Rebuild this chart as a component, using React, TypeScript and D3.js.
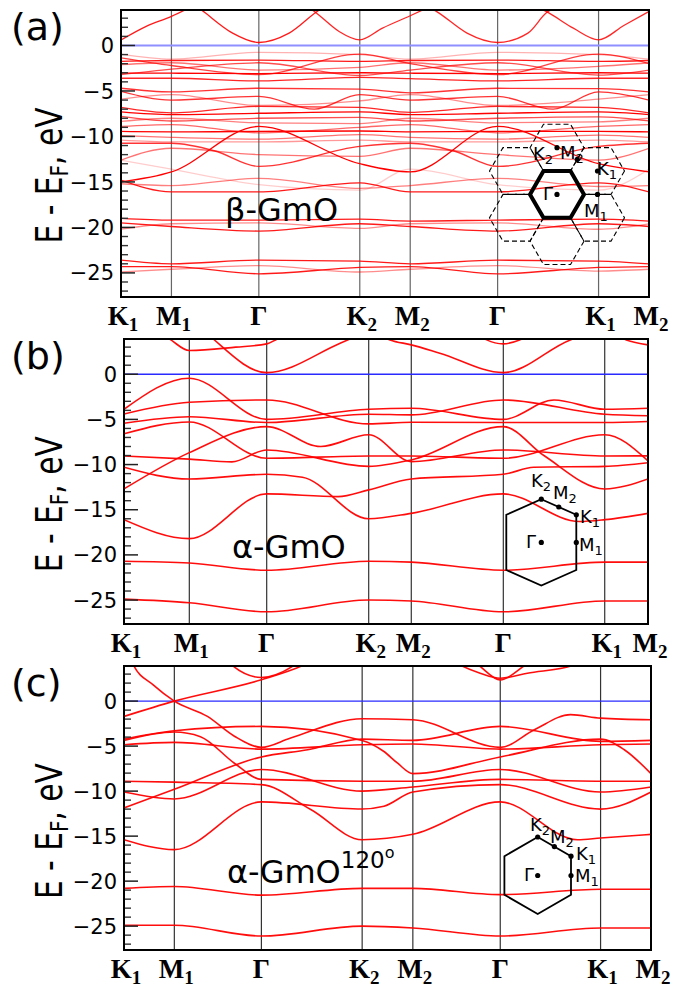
import React from "react";
import * as d3 from "d3";

type Pt = [number, number];

// ---------- shared axis data ----------
const energyRange: [number, number] = [-27.65, 3.9];
const majorTicks = [-25, -20, -15, -10, -5, 0];
const minorTicks = [-27, -26, -24, -23, -22, -21, -19, -18, -17, -16, -14, -13, -12, -11, -9, -8, -7, -6, -4, -3, -2, -1, 1, 2, 3];
const nodeNames = ["K", "M", "Γ", "K", "M", "Γ", "K", "M"];
const nodeSubs = ["1", "1", "", "2", "2", "", "1", "2"];

// path distances of the high-symmetry nodes (K1 M1 Γ K2 M2 Γ K1 M2)
const kNodesA = [0, 0.577, 1.577, 2.732, 3.309, 4.309, 5.464, 6.041];
const kNodesB = [0, 0.753, 1.645, 2.821, 3.312, 4.373, 5.542, 6.041];
const kNodesC = [0, 0.577, 1.575, 2.73, 3.311, 4.313, 5.463, 6.041];

// ---------- panel (a) beta-GmO : [node index, energy] ----------
const condA: Pt[][] = [
  [[0, 0.6], [0.5, 2.1], [1, 3.2], [1.3, 4.6]],
  [[1.2, 5], [1.39, 3.56], [1.7, 1.36], [2, 0.33], [2.3, 1.36], [2.6, 3.9], [2.8, 5]],
  [[2.45, 4.6], [2.6, 3.3], [2.795, 1.54], [3, 0.62], [3.45, 1.91], [4, 3.27], [4.3, 4.6]],
  [[4.15, 4.6], [4.33, 3.56], [4.65, 1.36], [5, 0.33], [5.3, 1.36], [5.48, 3.56], [5.65, 4.6]],
  [[5.3, 4.6], [5.48, 3.74], [5.75, 1.9], [6, 0.62], [6.5, 2.2], [7, 3.74]],
];
const valA: Pt[][] = [
  [[0, -0.95], [1, -1.5], [2, -0.75], [3, -1.0], [4, -1.5], [5, -0.75], [6, -1.0], [7, -1.5]],
  [[0, -1.35], [1, -2.2], [2, -3.2], [3, -0.95], [4, -2.0], [5, -3.2], [6, -0.95], [7, -2.0]],
  [[0, -1.75], [1, -1.65], [2, -1.6], [3, -1.75], [4, -1.65], [5, -1.6], [6, -1.75], [7, -1.65]],
  [[0, -2.1], [1, -1.9], [2, -2.7], [3, -2.4], [4, -1.9], [5, -2.7], [6, -2.3], [7, -1.9]],
  [[0, -3.05], [1, -3.05], [2, -3.1], [3, -3.0], [4, -3.05], [5, -3.1], [6, -3.0], [7, -3.05]],
  [[0, -3.2], [1, -2.6], [2, -1.9], [3, -3.3], [4, -2.7], [5, -1.9], [6, -3.25], [7, -2.7]],
  [[0, -3.6], [1, -3.6], [2, -3.9], [3, -3.5], [4, -3.65], [5, -3.9], [6, -3.6], [7, -3.6]],
  [[0, -4.7], [1, -5.1], [2, -4.7], [3, -4.8], [4, -5.2], [5, -4.7], [6, -4.75], [7, -5.1]],
  [[0, -5.05], [1, -6.0], [2, -5.6], [2.55, -7.0], [3, -5.4], [4, -6.0], [5, -5.6], [5.55, -7.0], [6, -5.1], [7, -6.0]],
  [[0, -5.9], [1, -5.4], [2, -6.6], [3, -6.1], [4, -5.4], [5, -6.6], [6, -5.9], [7, -5.4]],
  [[0, -6.8], [1, -7.4], [2, -6.7], [3, -6.8], [4, -7.35], [5, -6.7], [6, -6.8], [7, -7.4]],
  [[0, -7.3], [1, -7.6], [2, -7.45], [3, -7.3], [4, -7.6], [5, -7.45], [6, -7.3], [7, -7.6]],
  [[0, -7.8], [1, -8.3], [2, -8.0], [3, -7.9], [4, -8.3], [5, -8.0], [6, -7.85], [7, -8.3]],
  [[0, -8.35], [1, -8.0], [2, -8.5], [3, -8.6], [4, -8.0], [5, -8.5], [6, -8.4], [7, -8.0]],
  [[0, -8.9], [1, -8.7], [2, -9.6], [3, -9.0], [4, -8.7], [5, -9.6], [6, -8.9], [7, -8.7]],
  [[0, -9.45], [1, -9.5], [2, -9.45], [3, -9.4], [4, -9.5], [5, -9.45], [6, -9.45], [7, -9.5]],
  [[0, -9.9], [1, -10.1], [2, -10.3], [3, -9.8], [4, -10.1], [5, -10.3], [6, -9.85], [7, -10.1]],
  [[0, -15.0], [1, -13.9], [2, -8.9], [3, -13.0], [4, -13.9], [5, -8.9], [6, -13.0], [7, -13.9]],
  [[0, -10.75], [1, -10.75], [1.5, -11.6], [2, -13.3], [3, -11.1], [4, -10.75], [4.5, -11.6], [5, -13.3], [6, -11.1], [7, -10.75]],
  [[0, -10.4], [1, -10.6], [2, -10.6], [3, -10.4], [4, -10.6], [5, -10.6], [6, -10.4], [7, -10.6]],
  [[0, -12.6], [1, -11.3], [2, -12.0], [3, -12.2], [4, -11.3], [5, -12.0], [6, -12.6], [7, -11.3]],
  [[0, -14.8], [1, -16.1], [2, -16.1], [3, -15.1], [4, -16.1], [5, -16.1], [6, -15.1], [7, -16.1]],
  [[0, -12.6], [1, -13.6], [2, -15.3], [3, -15.9], [4, -13.6], [5, -15.3], [6, -15.9], [7, -13.6]],
  [[0, -15.2], [1, -15.4], [2, -14.6], [3, -15.7], [4, -15.4], [5, -14.6], [6, -15.5], [7, -15.4]],
  [[0, -19.0], [1, -19.2], [2, -19.2], [3, -19.1], [4, -19.3], [5, -19.2], [6, -19.1], [7, -19.3]],
  [[0, -19.5], [1, -19.9], [2, -20.4], [3, -19.6], [4, -19.9], [5, -20.4], [6, -19.6], [7, -19.9]],
  [[0, -20.2], [1, -19.6], [2, -19.5], [3, -20.1], [4, -19.6], [5, -19.5], [6, -20.2], [7, -19.6]],
  [[0, -23.6], [1, -24.0], [2, -23.6], [3, -23.7], [4, -24.0], [5, -23.6], [6, -23.7], [7, -24.0]],
  [[0, -24.3], [1, -24.3], [2, -25.1], [3, -24.4], [4, -24.3], [5, -25.1], [6, -24.4], [7, -24.3]],
  [[0, -24.9], [1, -24.6], [2, -24.2], [3, -24.9], [4, -24.6], [5, -24.2], [6, -24.8], [7, -24.6]],
];
const condWeightsA = [0.9, 0.9, 0.85, 0.85, 0.85];
const valWeightsA = [0.3, 0.75, 0.9, 0.55, 1, 0.7, 0.85, 0.8, 0.8, 0.45, 0.85, 1, 0.7, 0.5, 0.6, 1, 0.55, 1, 0.8, 0.4, 0.55, 0.9, 0.2, 0.5, 0.9, 0.9, 0.45, 0.9, 0.9, 0.45];

// ---------- panel (b) alpha-GmO ----------
const bandsB: Pt[][] = [
  [[0, 7], [0.7, 3.88], [1, 2.62], [1.6, 3.0], [2, 3.36], [2.1, 3.88], [2.3, 5]],
  [[1, 6.5], [1.31, 3.9], [2, 0.18], [2.72, 3.43], [3, 4.8]],
  [[3, 5], [3.5, 3.8], [4, 3.25], [4.31, 2.33], [5, 0.18], [5.66, 3.8], [6, 5], [6.5, 3.8], [7, 3.25]],
  [[4.7, 4.6], [4.82, 3.8], [5, 3.36], [5.16, 3.8], [5.3, 4.6]],
  [[0, -3.88], [1, -0.44], [2, -5.0], [3, -3.88], [4, -3.77], [5, -5.0], [5.5, -2.85], [6, -3.88], [7, -3.77]],
  [[0, -4.4], [1, -3.1], [2, -2.85], [3, -5.5], [4, -5.32], [5, -5.35], [6, -5.35], [7, -5.24]],
  [[0, -5.43], [1, -4.7], [2, -5.35], [3, -4.43], [4, -4.5], [5, -2.85], [6, -4.43], [7, -4.6]],
  [[0, -6.6], [1, -5.28], [2, -9.3], [3, -9.05], [4, -9.05], [5, -9.3], [6, -6.7], [7, -9.6]],
  [[0, -12.7], [1, -8.68], [2, -5.8], [2.53, -8.0], [3, -6.7], [4, -9.67], [5, -8.38], [6, -9.05], [7, -9.04]],
  [[0, -9.05], [1, -9.4], [1.55, -9.7], [2, -8.38], [3, -10.2], [4, -9.49], [5, -5.8], [5.4, -9.0], [6, -12.7], [7, -11.6]],
  [[0, -10.3], [1, -11.6], [2, -11.08], [2.35, -11.4], [3, -16.0], [4, -15.4], [5, -13.25], [5.75, -16.3], [6, -16.1], [7, -15.4]],
  [[0, -16.1], [1, -18.2], [2, -13.25], [2.7, -13.55], [3, -12.8], [4, -11.6], [5, -11.08], [5.3, -10.3], [6, -10.2], [7, -9.8]],
  [[0, -20.7], [1, -20.9], [2, -21.7], [3, -20.7], [4, -20.8], [5, -21.7], [6, -20.8], [7, -20.8]],
  [[0, -24.9], [1, -25.3], [2, -26.3], [3, -25.0], [4, -25.1], [5, -26.3], [6, -25.1], [7, -25.1]],
];

// ---------- panel (c) alpha-GmO 120 ----------
const bandsC: Pt[][] = [
  [[0, -1.7], [1, 0], [2, 2.37], [2.41, 3.95], [2.6, 5]],
  [[0, 7], [0.185, 4.03], [0.58, 1.8], [1, 0], [1.38, -1.7], [1.69, -3.9], [2, -5.14], [2.29, -4.1], [3, -1.96], [4, -2.07], [5, -5.14], [5.34, -3.18], [5.7, -1.5], [6, -1.89], [7, -2.07]],
  [[1.55, 5], [1.66, 4.0], [2, 2.62], [2.33, 4.0], [2.45, 5]],
  [[4.35, 5], [4.54, 4.0], [4.77, 3.1], [5, 2.54], [5.27, 3.1], [5.73, 4.0], [5.9, 5]],
  [[4.6, 5], [4.75, 4.0], [5, 2.35], [5.25, 4.0], [5.4, 5]],
  [[0, -4.22], [1, -3.29], [2, -2.81], [3, -4.37], [3.43, -5.6], [3.7, -6.9], [4, -8.06], [5, -6.2], [6, -4.22], [6.47, -5.4], [7, -8.06]],
  [[0, -4.37], [1, -3.44], [1.3, -3.95], [1.69, -6.9], [2, -8.7], [3, -8.9], [4, -8.9], [5, -7.6], [6, -10.1], [7, -9.54]],
  [[0, -4.85], [1, -4.59], [2, -5.33], [3, -4.85], [4, -4.77], [5, -5.33], [6, -4.85], [7, -4.77]],
  [[0, -8.9], [1, -9.0], [2, -9.28], [2.49, -12.05], [3, -15.4], [4, -14.8], [5, -11.2], [5.77, -15.4], [6, -15.2], [7, -14.8]],
  [[0, -10.1], [1, -10.87], [2, -7.6], [3, -10.0], [4, -9.54], [5, -8.7], [6, -8.9], [7, -8.9]],
  [[0, -11.87], [1, -9.8], [2, -6.2], [2.46, -5.4], [3, -4.22], [4, -4.36], [5, -2.81], [6, -4.47], [7, -4.36]],
  [[0, -15.4], [1, -16.5], [2, -11.2], [3, -11.98], [3.43, -11.68], [4, -10.1], [5, -9.28], [6, -12.0], [7, -10.1]],
  [[0, -20.8], [1, -20.6], [2, -21.55], [3, -20.8], [4, -20.8], [5, -21.5], [6, -20.9], [7, -20.9]],
  [[0, -24.9], [1, -24.9], [2, -26.1], [3, -25.0], [4, -25.2], [5, -26.1], [6, -25.2], [7, -25.2]],
];

// ---------- layout ----------
const layout = [
  { left: 121, right: 649, top: 10, bottom: 297 },
  { left: 124, right: 648, top: 339, bottom: 624 },
  { left: 124, right: 651, top: 666, bottom: 950 },
];

type PanelProps = {
  idx: number;
  kNodes: number[];
  bands: Pt[][];
  weights?: number[];
  faintFermi?: boolean;
  nodeColor: string;
  tag: string;
  children?: React.ReactNode;
};

function Panel({ idx, kNodes, bands, weights, faintFermi, nodeColor, tag, children }: PanelProps) {
  const box = layout[idx];
  const idx2k = d3.scaleLinear().domain([0, 1, 2, 3, 4, 5, 6, 7]).range(kNodes);
  const x = d3.scaleLinear().domain([0, kNodes[7]]).range([box.left, box.right]);
  const y = d3.scaleLinear().domain(energyRange).range([box.bottom, box.top]);
  const line = d3
    .line<Pt>()
    .x((d) => x(idx2k(d[0])))
    .y((d) => y(d[1]))
    .curve(d3.curveMonotoneX);
  const clipId = `clip-${idx}`;
  const titleY = y(0) + 130;
  return (
    <g>
      <defs>
        <clipPath id={clipId}>
          <rect x={box.left} y={box.top} width={box.right - box.left} height={box.bottom - box.top} />
        </clipPath>
      </defs>
      <g clipPath={`url(#${clipId})`}>
        {kNodes.slice(1, 7).map((k, i) => (
          <line key={i} x1={x(k)} x2={x(k)} y1={box.top} y2={box.bottom} stroke={nodeColor} strokeWidth={1.2} />
        ))}
        <line
          x1={box.left}
          x2={box.right}
          y1={y(0)}
          y2={y(0)}
          stroke={faintFermi ? "#8f8fff" : "#2a2aff"}
          strokeWidth={faintFermi ? 2 : 1.4}
        />
        {bands.map((b, i) => (
          <path
            key={i}
            d={line(b) || ""}
            fill="none"
            stroke="#ff0000"
            strokeWidth={weights ? 1.3 : 1.6}
            strokeOpacity={weights ? weights[i] : 0.95}
          />
        ))}
      </g>
      {minorTicks.map((t) => (
        <line key={"m" + t} x1={box.left} x2={box.left + 7} y1={y(t)} y2={y(t)} stroke="#333" strokeWidth={1.4} />
      ))}
      {majorTicks.map((t) => (
        <g key={"M" + t}>
          <line x1={box.left} x2={box.left + 14} y1={y(t)} y2={y(t)} stroke="#222" strokeWidth={1.5} />
          <text x={box.left - 7} y={y(t) + 7.6} textAnchor="end" fontSize={21} fill="#000">
            {t < 0 ? "\u2212" + Math.abs(t) : String(t)}
          </text>
        </g>
      ))}
      <rect
        x={box.left}
        y={box.top}
        width={box.right - box.left}
        height={box.bottom - box.top}
        fill="none"
        stroke="#000"
        strokeWidth={2}
      />
      {kNodes.map((k, i) => (
        <text
          key={"n" + i}
          x={x(k) + (nodeSubs[i] ? 2 : 0)}
          y={box.bottom + 28}
          textAnchor="middle"
          fontFamily="'Liberation Serif', 'Times New Roman', serif"
          fontWeight="bold"
          fontSize={27}
        >
          {nodeNames[i]}
          {nodeSubs[i] ? (
            <tspan fontSize={19} dy={6}>
              {nodeSubs[i]}
            </tspan>
          ) : null}
        </text>
      ))}
      <text x={11} y={box.top + 30} fontSize={38}>
        {tag}
      </text>
      <text
        transform={`translate(62,${titleY}) rotate(-90)`}
        textAnchor="middle"
        fontSize={37}
        textLength={136}
        lengthAdjust="spacingAndGlyphs"
      >
        E - E
        <tspan fontSize={25} dy={6}>
          F
        </tspan>
        <tspan dy={-6}>, eV</tspan>
      </text>
      {children}
    </g>
  );
}

function Lbl({ x, y, t, s, anchor }: { x: number; y: number; t: string; s?: string; anchor?: string }) {
  return (
    <text x={x} y={y} fontSize={18} textAnchor={anchor || "start"}>
      {t}
      {s ? (
        <tspan fontSize={13} dy={4}>
          {s}
        </tspan>
      ) : null}
    </text>
  );
}

function InsetA() {
  const cx = 557, cy = 194.4, R = 27;
  const hex = (ox: number, oy: number) =>
    d3.range(6).map((i) => [ox + R * Math.cos((i * Math.PI) / 3), oy + R * Math.sin((i * Math.PI) / 3)].join(",")).join(" ");
  const d = Math.sqrt(3) * R;
  const neigh = [30, 90, 150, 210, 270, 330].map((a) => [cx + d * Math.cos((a * Math.PI) / 180), cy - d * Math.sin((a * Math.PI) / 180)]);
  const dots = [
    [cx, cy],
    [cx, cy - d],
    [(cx + neigh[0][0]) / 2, (cy - d + neigh[0][1]) / 2],
    [neigh[0][0], neigh[0][1]],
    [neigh[0][0], cy],
  ];
  return (
    <g>
      {neigh.map((n, i) => (
        <polygon key={i} points={hex(n[0], n[1])} fill="none" stroke="#000" strokeWidth={1.1} strokeDasharray="5,3" />
      ))}
      <polygon points={hex(cx, cy)} fill="none" stroke="#000" strokeWidth={4} strokeLinejoin="miter" />
      {dots.map((p, i) => (
        <circle key={i} cx={p[0]} cy={p[1]} r={2.6} fill="#000" />
      ))}
      <Lbl x={553} y={160} t="K" s="2" anchor="end" />
      <Lbl x={560} y={159} t="M" s="2" />
      <Lbl x={597} y={175} t="K" s="1" />
      <Lbl x={584} y={217} t="M" s="1" />
      <Lbl x={543} y={200} t="Γ" />
    </g>
  );
}

function InsetHex({ cx, cy, top, side, hw, labels }: { cx: number; cy: number; top: number; side: number; hw: number; labels: { x: number; y: number; t: string; s?: string }[] }) {
  const v = [
    [cx, cy - top],
    [cx + hw, cy - side],
    [cx + hw, cy + side],
    [cx, cy + top],
    [cx - hw, cy + side],
    [cx - hw, cy - side],
  ];
  const dots = [
    [cx, cy],
    v[0],
    [(v[0][0] + v[1][0]) / 2, (v[0][1] + v[1][1]) / 2],
    v[1],
    [cx + hw, cy],
  ];
  return (
    <g>
      <polygon points={v.map((p) => p.join(",")).join(" ")} fill="none" stroke="#000" strokeWidth={1.8} />
      {dots.map((p, i) => (
        <circle key={i} cx={p[0]} cy={p[1]} r={2.6} fill="#000" />
      ))}
      {labels.map((l, i) => (
        <Lbl key={i} x={l.x} y={l.y} t={l.t} s={l.s} />
      ))}
    </g>
  );
}

export default function App() {
  return (
    <svg
      width={682}
      height={988}
      style={{ position: "absolute", left: 0, top: 0, display: "block", background: "#fff" }}
      fontFamily="'DejaVu Sans', sans-serif"
    >
      <rect x={0} y={0} width={682} height={988} fill="#fff" />
      <Panel idx={0} kNodes={kNodesA} bands={[...condA, ...valA]} weights={[...condWeightsA, ...valWeightsA]} faintFermi nodeColor="#666" tag="(a)">
        <text x={225} y={221} fontSize={32}>
          β-GmO
        </text>
        <InsetA />
      </Panel>
      <Panel idx={1} kNodes={kNodesB} bands={bandsB} nodeColor="#333" tag="(b)">
        <text x={232} y={558} fontSize={32}>
          α-GmO
        </text>
        <InsetHex
          cx={541.3}
          cy={542.4}
          top={43.2}
          side={27.6}
          hw={35}
          labels={[
            { x: 531, y: 487, t: "K", s: "2" },
            { x: 553, y: 499, t: "M", s: "2" },
            { x: 580, y: 523, t: "K", s: "1" },
            { x: 579, y: 551, t: "M", s: "1" },
            { x: 526, y: 548, t: "Γ" },
          ]}
        />
      </Panel>
      <Panel idx={2} kNodes={kNodesC} bands={bandsC} nodeColor="#333" tag="(c)">
        <text x={227} y={883} fontSize={32}>
          α-GmO
          <tspan fontSize={23} dy={-15}>
            120
          </tspan>
          <tspan fontSize={16} dy={-10}>
            o
          </tspan>
        </text>
        <InsetHex
          cx={537.7}
          cy={875.5}
          top={38.5}
          side={19.3}
          hw={33.3}
          labels={[
            { x: 530, y: 831, t: "K", s: "2" },
            { x: 550, y: 843, t: "M", s: "2" },
            { x: 576, y: 860, t: "K", s: "1" },
            { x: 575, y: 882, t: "M", s: "1" },
            { x: 524, y: 881, t: "Γ" },
          ]}
        />
      </Panel>
    </svg>
  );
}
